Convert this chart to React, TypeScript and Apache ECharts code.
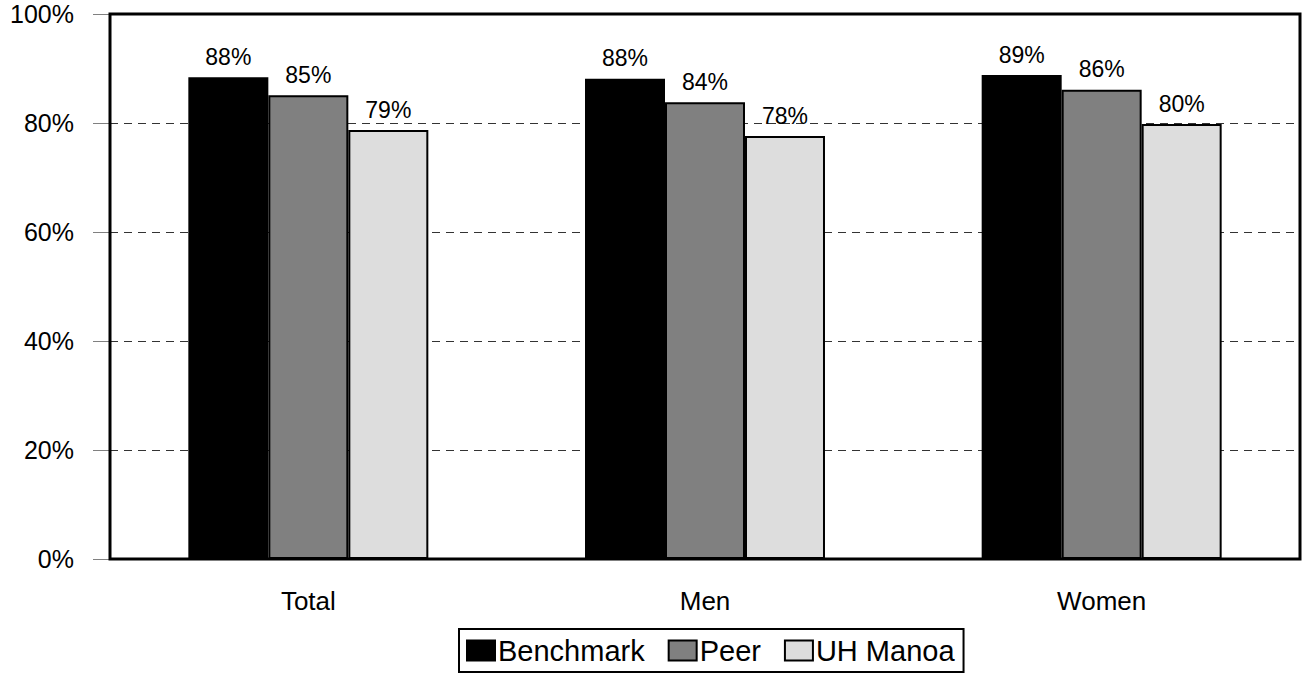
import React, { useEffect, useRef } from "react";
import * as echarts from "echarts";

const categories = ["Total", "Men", "Women"];
const benchmark = [88.4, 88.1, 88.8];
const peer = [85.1, 83.8, 86.1];
const uhManoa = [78.7, 77.6, 79.8];
const yTicks = [0, 20, 40, 60, 80, 100];

const FONT = "'Liberation Sans', Arial, sans-serif";

export default function App() {
  const ref = useRef<HTMLDivElement>(null);
  useEffect(() => {
    if (!ref.current) return;
    const chart = echarts.init(ref.current, null, { renderer: "svg" });
    const label = {
      show: true,
      position: "top",
      distance: 9,
      color: "#000",
      fontSize: 23,
      fontFamily: FONT,
      formatter: (p: any) => Math.round(p.value) + "%",
    };
    const mk = (name: string, data: number[], color: string) => ({
      name,
      type: "bar",
      data,
      barGap: "0%",
      barCategoryGap: "39.5%",
      itemStyle: { color, borderColor: "#000", borderWidth: 2 },
      label,
    });
    chart.setOption({
      animation: false,
      textStyle: { fontFamily: FONT },
      grid: {
        left: 110,
        right: 4,
        top: 14,
        bottom: 115,
        show: true,
        borderColor: "#000",
        borderWidth: 3,
        z: 5,
      },
      legend: {
        bottom: 2,
        left: 459,
        orient: "horizontal",
        borderColor: "#000",
        borderWidth: 2,
        padding: [7, 9, 7, 7],
        itemWidth: 28,
        itemHeight: 20,
        itemGap: 23,
        icon: "rect",
        textStyle: { fontSize: 29, color: "#000", fontFamily: FONT, padding: [0, 0, 0, -2] },
        data: ["Benchmark", "Peer", "UH Manoa"],
      },
      xAxis: {
        type: "category",
        data: categories,
        axisLine: { show: false },
        axisTick: { show: false },
        axisLabel: { color: "#000", fontSize: 26, margin: 29, fontFamily: FONT },
      },
      yAxis: {
        type: "value",
        min: yTicks[0],
        max: yTicks[yTicks.length - 1],
        interval: 20,
        axisLine: { show: false },
        axisTick: { show: true, length: 17, lineStyle: { color: "#808080", width: 1 } },
        axisLabel: {
          color: "#000",
          fontSize: 25,
          margin: 36,
          fontFamily: FONT,
          formatter: (v: number) => v + "%",
        },
        splitLine: {
          show: true,
          lineStyle: { color: "#333", type: [8, 6], width: 1 },
        },
      },
      series: [
        mk("Benchmark", benchmark, "#000000"),
        mk("Peer", peer, "#808080"),
        mk("UH Manoa", uhManoa, "#DDDDDD"),
      ],
    });
    return () => chart.dispose();
  }, []);
  return <div ref={ref} style={{ width: 1304, height: 674, position: "absolute", left: 0, top: 0 }} />;
}
